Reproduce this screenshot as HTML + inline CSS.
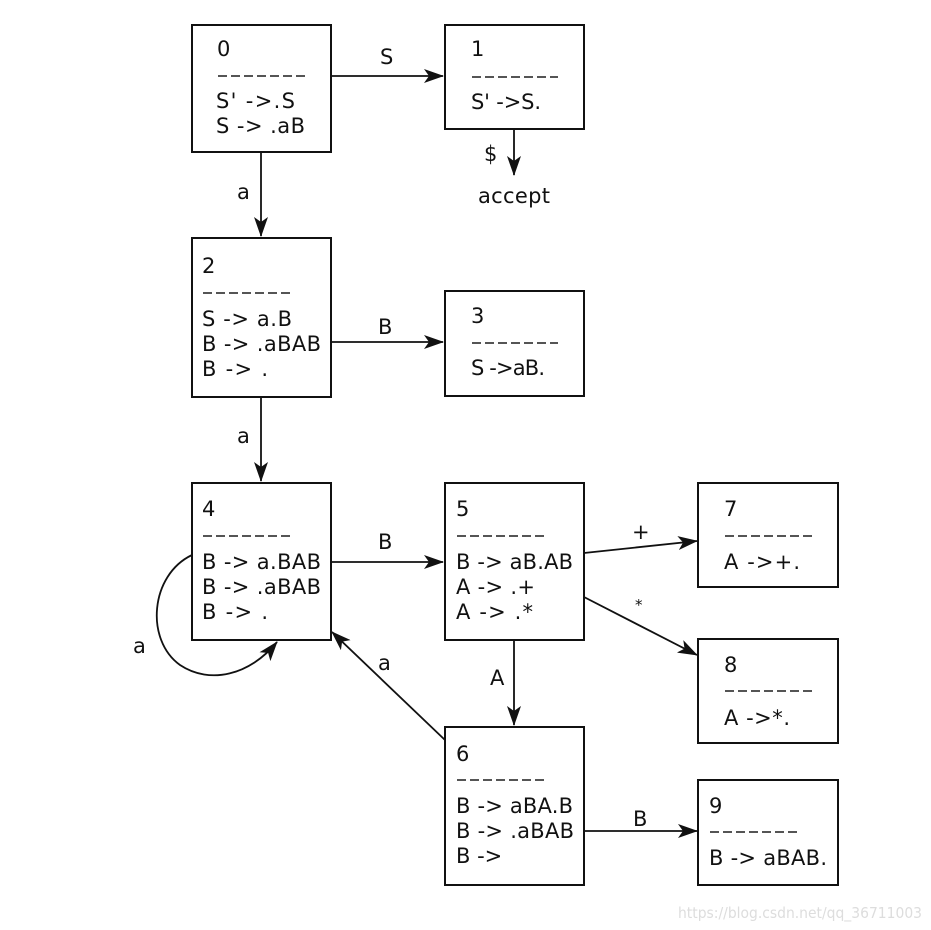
<!DOCTYPE html>
<html><head><meta charset="utf-8"><style>
html,body{margin:0;padding:0;background:#fff;}
svg{display:block;}
text{font-family:"DejaVu Sans","Liberation Sans",sans-serif;font-size:21px;fill:#111;}
.d{stroke:#555;stroke-width:2;stroke-dasharray:9,4;}
rect{fill:#fff;stroke:#111;stroke-width:2;}
.l{stroke:#111;stroke-width:1.8;fill:none;}
</style></head><body>
<svg width="931" height="930" viewBox="0 0 931 930" xmlns="http://www.w3.org/2000/svg">
<defs><marker id="a" markerWidth="20" markerHeight="14" refX="19" refY="7" orient="auto" markerUnits="userSpaceOnUse"><path d="M0,0 L20,7 L0,14 L5,7 Z" fill="#111"/></marker></defs>

<line class="l" x1="331" y1="76" x2="443" y2="76" marker-end="url(#a)"/>
<text x="380" y="64">S</text>
<line class="l" x1="514" y1="129" x2="514" y2="175" marker-end="url(#a)"/>
<text x="484" y="161">$</text>
<text x="478" y="203" textLength="72" lengthAdjust="spacing">accept</text>
<line class="l" x1="261" y1="152" x2="261" y2="236" marker-end="url(#a)"/>
<text x="237" y="199">a</text>
<line class="l" x1="331" y1="342" x2="443" y2="342" marker-end="url(#a)"/>
<text x="378" y="334">B</text>
<line class="l" x1="261" y1="397" x2="261" y2="481" marker-end="url(#a)"/>
<text x="237" y="443">a</text>
<line class="l" x1="331" y1="562" x2="443" y2="562" marker-end="url(#a)"/>
<text x="378" y="549">B</text>
<path class="l" d="M192,555 C150,575 145,640 180,665 C210,685 250,675 277,642" marker-end="url(#a)"/>
<text x="133" y="653">a</text>
<line class="l" x1="445" y1="740" x2="332" y2="632" marker-end="url(#a)"/>
<text x="378" y="670">a</text>
<line class="l" x1="514" y1="640" x2="514" y2="725" marker-end="url(#a)"/>
<text x="490" y="685">A</text>
<line class="l" x1="584" y1="553" x2="697" y2="541" marker-end="url(#a)"/>
<text x="632" y="539">+</text>
<line class="l" x1="584" y1="597" x2="697" y2="655" marker-end="url(#a)"/>
<text x="635" y="610" style="font-size:15px">*</text>
<line class="l" x1="584" y1="831" x2="697" y2="831" marker-end="url(#a)"/>
<text x="633" y="826">B</text>

<rect x="192" y="25" width="139" height="127"/>
<text x="217" y="56">0</text><line class="d" x1="218" y1="76" x2="305" y2="76"/>
<text x="216" y="108" textLength="79" lengthAdjust="spacing">S' -&gt;.S</text><text x="216" y="133" textLength="89" lengthAdjust="spacing">S -&gt; .aB</text>
<rect x="445" y="25" width="139" height="104"/>
<text x="471" y="56">1</text><line class="d" x1="472" y1="77" x2="558" y2="77"/>
<text x="471" y="109" textLength="70" lengthAdjust="spacing">S' -&gt;S.</text>
<rect x="192" y="238" width="139" height="159"/>
<text x="202" y="273">2</text><line class="d" x1="203" y1="293" x2="290" y2="293"/>
<text x="202" y="326" textLength="90" lengthAdjust="spacing">S -&gt; a.B</text><text x="202" y="351" textLength="119" lengthAdjust="spacing">B -&gt; .aBAB</text><text x="202" y="376" textLength="66" lengthAdjust="spacing">B -&gt; .</text>
<rect x="445" y="291" width="139" height="105"/>
<text x="471" y="323">3</text><line class="d" x1="472" y1="343" x2="558" y2="343"/>
<text x="471" y="375" textLength="74" lengthAdjust="spacing">S -&gt;aB.</text>
<rect x="192" y="483" width="139" height="157"/>
<text x="202" y="516">4</text><line class="d" x1="203" y1="536" x2="290" y2="536"/>
<text x="202" y="569" textLength="119" lengthAdjust="spacing">B -&gt; a.BAB</text><text x="202" y="594" textLength="119" lengthAdjust="spacing">B -&gt; .aBAB</text><text x="202" y="619" textLength="66" lengthAdjust="spacing">B -&gt; .</text>
<rect x="445" y="483" width="139" height="157"/>
<text x="456" y="516">5</text><line class="d" x1="457" y1="536" x2="544" y2="536"/>
<text x="456" y="569" textLength="117" lengthAdjust="spacing">B -&gt; aB.AB</text><text x="456" y="594" textLength="79" lengthAdjust="spacing">A -&gt; .+</text><text x="456" y="619" textLength="77" lengthAdjust="spacing">A -&gt; .*</text>
<rect x="698" y="483" width="140" height="104"/>
<text x="724" y="516">7</text><line class="d" x1="725" y1="536" x2="812" y2="536"/>
<text x="724" y="569" textLength="76" lengthAdjust="spacing">A -&gt;+.</text>
<rect x="698" y="639" width="140" height="104"/>
<text x="724" y="672">8</text><line class="d" x1="725" y1="691" x2="812" y2="691"/>
<text x="724" y="725" textLength="66" lengthAdjust="spacing">A -&gt;*.</text>
<rect x="445" y="727" width="139" height="158"/>
<text x="456" y="761">6</text><line class="d" x1="457" y1="780" x2="544" y2="780"/>
<text x="456" y="813" textLength="117" lengthAdjust="spacing">B -&gt; aBA.B</text><text x="456" y="838" textLength="118" lengthAdjust="spacing">B -&gt; .aBAB</text><text x="456" y="863">B -&gt;</text>
<rect x="698" y="780" width="140" height="105"/>
<text x="709" y="813">9</text><line class="d" x1="710" y1="832" x2="797" y2="832"/>
<text x="709" y="865" textLength="118" lengthAdjust="spacing">B -&gt; aBAB.</text>

<text x="678" y="918" style="font-size:15px;fill:#ddd" textLength="244" lengthAdjust="spacingAndGlyphs">https://blog.csdn.net/qq_36711003</text>
</svg>
</body></html>
